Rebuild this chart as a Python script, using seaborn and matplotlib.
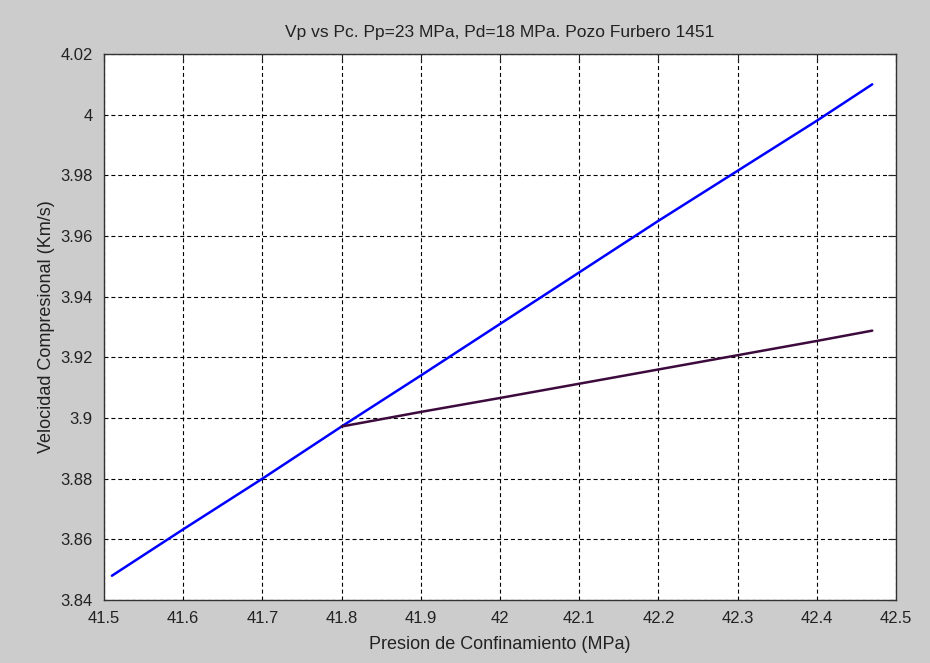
import pandas as pd
import matplotlib
matplotlib.use("Agg")
import matplotlib.pyplot as plt
import seaborn as sns

# Data
pc_total = [41.51, 41.6, 41.7, 41.8, 41.9, 42.0, 42.1, 42.2, 42.3, 42.4, 42.47]
vp_total = [3.848, 3.8633, 3.880, 3.8972, 3.914, 3.931, 3.948, 3.965, 3.9815, 3.998, 4.010]

pc_drained = [41.8, 41.9, 42.0, 42.1, 42.2, 42.3, 42.4, 42.47]
vp_drained = [3.8972, 3.902, 3.9066, 3.9113, 3.916, 3.9207, 3.9254, 3.9288]

x_ticks = [41.5, 41.6, 41.7, 41.8, 41.9, 42, 42.1, 42.2, 42.3, 42.4, 42.5]
x_labels = ["41.5", "41.6", "41.7", "41.8", "41.9", "42", "42.1", "42.2", "42.3", "42.4", "42.5"]
y_ticks = [3.84, 3.86, 3.88, 3.9, 3.92, 3.94, 3.96, 3.98, 4.0, 4.02]
y_labels = ["3.84", "3.86", "3.88", "3.9", "3.92", "3.94", "3.96", "3.98", "4", "4.02"]

df_total = pd.DataFrame({"Pc": pc_total, "Vp": vp_total})
df_drained = pd.DataFrame({"Pc": pc_drained, "Vp": vp_drained})

sns.set_style("white")
plt.rcParams["font.family"] = ["Liberation Sans", "DejaVu Sans"]

fig = plt.figure(figsize=(9.3, 6.63), dpi=100, facecolor="#cccccc")
ax = fig.add_axes([104 / 930, 1 - 600 / 663, 792 / 930, 546 / 663])
ax.set_facecolor("white")

sns.lineplot(data=df_total, x="Pc", y="Vp", color="#0000ff", linewidth=1.8, ax=ax)
sns.lineplot(data=df_drained, x="Pc", y="Vp", color="#3c0a3c", linewidth=1.8, ax=ax)

ax.set_xlim(41.5, 42.5)
ax.set_ylim(3.84, 4.02)
ax.set_xticks(x_ticks)
ax.set_xticklabels(x_labels)
ax.set_yticks(y_ticks)
ax.set_yticklabels(y_labels)

ax.grid(True, color="black", linestyle=(0, (3.6, 2.6)), linewidth=0.8)
ax.tick_params(direction="in", length=6, width=0.8, top=True, right=True,
               labelsize=12, colors="#222222")
ax.tick_params(axis="x", pad=8)
ax.tick_params(axis="y", pad=8)
for s in ax.spines.values():
    s.set_color("#333333")
    s.set_linewidth(1.0)

ax.set_title("Vp vs Pc. Pp=23 MPa, Pd=18 MPa. Pozo Furbero 1451", fontsize=12.5,
             color="#222222", pad=12)
ax.set_xlabel("Presion de Confinamiento (MPa)", fontsize=13, color="#222222", labelpad=7)
ax.set_ylabel("Velocidad Compresional (Km/s)", fontsize=13, color="#222222", labelpad=4)

fig.savefig("out.png", dpi=100, facecolor=fig.get_facecolor())
